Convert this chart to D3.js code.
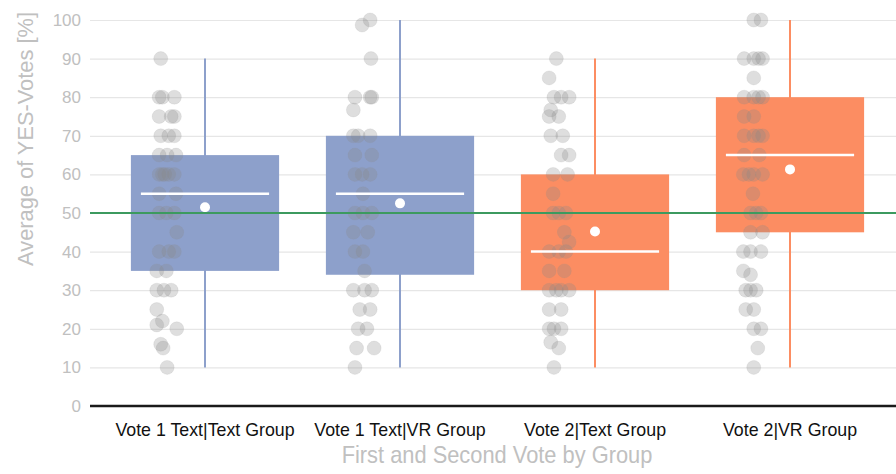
<!DOCTYPE html>
<html>
<head>
<meta charset="utf-8">
<script src="https://cdn.jsdelivr.net/npm/d3@7"></script>
<style>
  body { margin: 0; background: #fff; }
  svg text { font-family: "Liberation Sans", Arial, sans-serif; }
</style>
</head>
<body>
<svg id="svg"></svg>
<script>
var width = 896, height = 474;

// categories and box stats
var groups = ["Vote 1 Text|Text Group", "Vote 1 Text|VR Group", "Vote 2|Text Group", "Vote 2|VR Group"];
var colors = ["#8da0cb", "#8da0cb", "#fc8d62", "#fc8d62"];
var mins = [10, 10, 10, 10];
var q1s = [35, 34, 30, 45];
var medians = [55, 55, 40, 65];
var q3s = [65, 70, 60, 80];
var maxs = [90, 100, 90, 100];
var means = [51.5, 52.5, 45.2, 61.3];
var yTicks = [0, 10, 20, 30, 40, 50, 60, 70, 80, 90, 100];
var refLine = 50;

// individual votes [value, jitter]
var points1 = [[90,-0.45],[80,-0.55],[80,-0.35],[80,0.4],[75,-0.55],[75,0.2],[75,0.4],[70,-0.45],[70,0.05],[70,0.4],
  [65,-0.55],[65,-0.05],[65,0.5],[60,-0.55],[60,-0.35],[60,0.05],[60,0.4],[60,-0.2],[55,-0.55],[55,0.5],
  [50,-0.55],[50,-0.1],[50,0.4],[45,0.55],[40,-0.55],[40,0.05],[40,0.4],[35,-0.7],[35,-0.1],[30,-0.7],
  [30,0.2],[30,-0.25],[25,-0.7],[21,-0.7],[22,-0.35],[20,0.55],[16,-0.45],[15,-0.3],[10,-0.05]];
var points2 = [[100,0.45],[98.7,-0.05],[90,0.5],[80,-0.5],[80,0.45],[80,0.55],[76.7,-0.6],[70,-0.6],[70,0.45],[70,-0.3],
  [65,-0.5],[65,0.55],[60,-0.5],[60,-0.05],[60,0.45],[55,0],[50,-0.5],[50,0.55],[50,0],[45,-0.6],
  [45,0.3],[40,-0.5],[40,0],[35,0.1],[30,-0.6],[30,0.1],[30,0.55],[25,-0.2],[25,0.45],[20,-0.3],
  [20,0.25],[15,-0.4],[15,0.7],[10,-0.5]];
var points3 = [[90,-0.1],[85,-0.55],[80,-0.25],[80,0.2],[80,0.7],[76.7,-0.45],[75,-0.55],[75,0.05],[70,-0.45],[70,0.3],
  [65,0.2],[65,0.7],[60,-0.3],[60,0.6],[55,-0.3],[50,-0.3],[50,0.5],[50,0.05],[45,0.4],[42.5,0.7],
  [40,-0.55],[40,0.05],[40,0.5],[35,-0.55],[35,0.4],[30,-0.55],[30,0.2],[30,0.7],[30,-0.1],[25,-0.55],
  [25,0.2],[20,-0.55],[20,0.2],[20,-0.25],[16.5,-0.45],[15,0.05],[10,-0.25]];
var points4 = [[100,0.05],[100,0.5],[90,-0.55],[90,0.05],[90,0.6],[90,0.35],[85,0.05],[80,-0.55],[80,0.05],[80,0.6],
  [80,0.35],[75,-0.55],[75,0.05],[70,-0.55],[70,0.05],[70,0.6],[70,0.35],[65,-0.55],[65,0.4],[60,-0.6],
  [60,0.05],[60,0.6],[60,-0.25],[55,0],[50,0.2],[50,0.5],[50,-0.15],[45,-0.15],[45,0.6],[40,-0.6],
  [40,-0.15],[40,0.5],[35,-0.6],[34,-0.15],[30,-0.45],[30,0.2],[30,-0.15],[25,-0.45],[25,0.05],[20,0.05],
  [20,0.5],[15,0.3],[10,0.05]];
var pointSets = [points1, points2, points3, points4];

var margin = {left: 90, right: 0, top: 20, bottom: 68};

var svg = d3.select("#svg").attr("width", width).attr("height", height);

var xScale = d3.scaleBand().domain(groups).range([107.5, 887.5]).padding(0);
var yScale = d3.scaleLinear().domain([0, 100]).range([height - margin.bottom, margin.top]);
var jitter = d3.scaleLinear().domain([-1, 1]).range([-16, 16]);

var bw = xScale.bandwidth();
var boxW = bw * 0.76;
var cx = g => xScale(g) + bw / 2;

// text helper, with a slight horizontal squeeze where needed
function addText(parent, x, y, size, sx, anchor, fill, txt, rotate) {
  return parent.append("text")
    .attr("transform", `translate(${x}, ${y})` + (rotate ? " rotate(-90)" : "") + ` scale(${sx}, 1)`)
    .attr("text-anchor", anchor)
    .attr("font-size", size)
    .attr("fill", fill)
    .text(txt);
}

// gridlines
var yAxis = svg.append("g")
  .attr("transform", `translate(${margin.left}, 0)`)
  .call(d3.axisLeft(yScale).tickValues(yTicks).tickSize(-(width - margin.left)).tickFormat(""));
yAxis.select(".domain").remove();
yAxis.selectAll(".tick line").attr("stroke", "#e6e6e6").attr("stroke-width", 1.2);

// y tick labels
var yLabels = svg.append("g");
yTicks.forEach(t => addText(yLabels, 81, yScale(t) + 6, 17, 1, "end", "#c0c0c0", t));

var chart = svg.append("g");

groups.forEach((g, i) => {
  // whisker
  chart.append("line")
    .attr("x1", cx(g)).attr("x2", cx(g))
    .attr("y1", yScale(mins[i])).attr("y2", yScale(maxs[i]))
    .attr("stroke", colors[i]).attr("stroke-width", 2);
  // box
  chart.append("rect")
    .attr("x", cx(g) - boxW / 2).attr("width", boxW)
    .attr("y", yScale(q3s[i])).attr("height", yScale(q1s[i]) - yScale(q3s[i]))
    .attr("fill", colors[i]);
  // points
  chart.append("g").selectAll("circle")
    .data(pointSets[i])
    .join("circle")
    .attr("cx", d => cx(g) - bw * 0.19 + jitter(d[1]))
    .attr("cy", d => yScale(d[0]))
    .attr("r", 7)
    .attr("fill", "#8a8a8a")
    .attr("fill-opacity", 0.28)
    .attr("stroke", "#8a8a8a")
    .attr("stroke-opacity", 0.12);
  // median
  chart.append("line")
    .attr("x1", cx(g) - boxW / 2 + 10).attr("x2", cx(g) + boxW / 2 - 10)
    .attr("y1", yScale(medians[i])).attr("y2", yScale(medians[i]))
    .attr("stroke", "#fff").attr("stroke-width", 2.5);
  // mean
  chart.append("circle")
    .attr("cx", cx(g)).attr("cy", yScale(means[i])).attr("r", 5)
    .attr("fill", "#fff");
});

// reference line at 50 %
svg.append("line")
  .attr("x1", margin.left).attr("x2", width)
  .attr("y1", yScale(refLine)).attr("y2", yScale(refLine))
  .attr("stroke", "#3c9a5f").attr("stroke-width", 2);

// x axis
svg.append("line")
  .attr("x1", margin.left).attr("x2", width)
  .attr("y1", yScale(0)).attr("y2", yScale(0))
  .attr("stroke", "#1a1a1a").attr("stroke-width", 2.5);
var xLabels = svg.append("g");
groups.forEach(g => addText(xLabels, cx(g), 436, 17.8, 1, "middle", "#111", g));

// axis titles
addText(svg, 497, 463, 24, 0.91, "middle", "#c0c0c0", "First and Second Vote by Group");
addText(svg, 33, 139, 22.5, 0.97, "middle", "#c0c0c0", "Average of YES-Votes [%]", true);
</script>
</body>
</html>
